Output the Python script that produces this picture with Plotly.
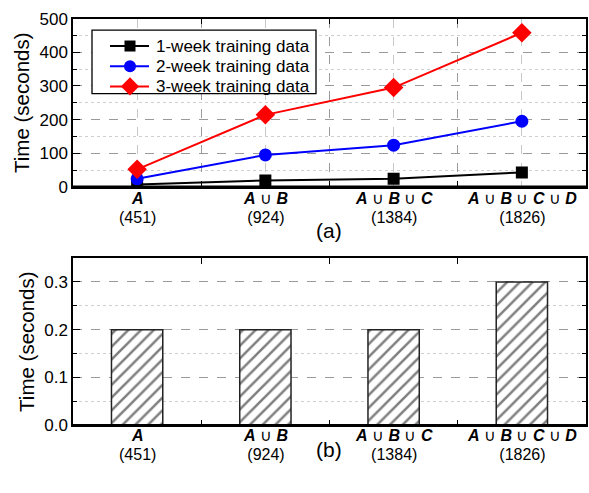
import plotly.graph_objects as go

# Category labels (subset unions) and their sizes
set_labels = [
    "<b><i>A</i></b>",
    "<b><i>A</i></b> \u222a <b><i>B</i></b>",
    "<b><i>A</i></b> \u222a <b><i>B</i></b> \u222a <b><i>C</i></b>",
    "<b><i>A</i></b> \u222a <b><i>B</i></b> \u222a <b><i>C</i></b> \u222a <b><i>D</i></b>",
]
set_sizes = ["(451)", "(924)", "(1384)", "(1826)"]
positions = [0, 1, 2, 3]

# Training time (seconds) by amount of training data
series_names = ["1-week training data", "2-week training data", "3-week training data"]
week1_time = [7, 19, 24, 43]
week2_time = [24, 95, 124, 195]
week3_time = [52, 214, 295, 458]

# Per-sample time (seconds)
bar_time = [0.2, 0.2, 0.2, 0.3]

FONT = "Liberation Sans, Arial, sans-serif"
W, H = 589, 493

fig = go.Figure()

styles = [("#000000", "square", 12), ("#0000ff", "circle", 13), ("#ff0000", "diamond", 15)]
for name, vals, (color, sym, size) in zip(series_names, [week1_time, week2_time, week3_time], styles):
    fig.add_trace(go.Scatter(
        x=positions, y=vals, name=name, mode="lines+markers",
        line=dict(color=color, width=2),
        marker=dict(symbol=sym, size=size, color=color),
        xaxis="x", yaxis="y", showlegend=False,
    ))

fig.add_trace(go.Bar(
    x=positions, y=bar_time, width=0.4, showlegend=False,
    marker=dict(
        color="white",
        line=dict(color="#222222", width=1.5),
        pattern=dict(shape="/", fgcolor="#000000", bgcolor="white",
                     size=9, solidity=0.28),
    ),
    xaxis="x2", yaxis="y2",
))

# Legend box drawn on a pixel-space overlay axis (x3/y3)
leg_left, leg_top, leg_right, leg_bottom = 92, 22, 316, 88
row_y = [38.5, 59.5, 80.5]
sample_x0, sample_mid, sample_x1, text_x = 110, 130, 149, 154

fig.add_shape(type="rect", xref="x3", yref="y3",
              x0=leg_left, x1=leg_right, y0=leg_top, y1=leg_bottom,
              fillcolor="white", line=dict(color="black", width=1.3),
              layer="between")
for name, ry, (color, sym, size) in zip(series_names, row_y, styles):
    fig.add_trace(go.Scatter(
        x=[sample_x0, sample_x1], y=[ry, ry], mode="lines",
        line=dict(color=color, width=2),
        xaxis="x3", yaxis="y3", showlegend=False, hoverinfo="skip",
    ))
    fig.add_trace(go.Scatter(
        x=[sample_mid], y=[ry], mode="markers",
        marker=dict(symbol=sym, size=size - 1, color=color, opacity=1),
        xaxis="x3", yaxis="y3", showlegend=False, hoverinfo="skip",
    ))
    fig.add_annotation(x=text_x, y=ry, xref="x3", yref="y3", text=name,
                       showarrow=False, xanchor="left", yanchor="middle",
                       font=dict(size=17))

x_dom = [73 / W, 586 / W]
top_dom = [1 - 185 / H, 1 - 10 / H]
bot_dom = [1 - 433 / H, 1 - 259 / H]

common_x = dict(
    range=[-0.5, 3.5], domain=x_dom,
    tickvals=[0.5, 1.5, 2.5], showticklabels=False,
    ticks="inside", ticklen=6, tickcolor="black",
    showline=True, linecolor="black", linewidth=1.5, mirror="ticks",
    zeroline=False,
)

common_y = dict(
    ticks="inside", ticklen=7, tickcolor="black",
    showline=True, linecolor="black", linewidth=1.5, mirror="ticks",
    showgrid=True, gridcolor="#9a9a9a", griddash="dash",
    zeroline=False, tickfont=dict(size=17),
    title=dict(text="Time (seconds)", font=dict(size=20.5), standoff=4),
)

fig.update_layout(
    width=W, height=H,
    margin=dict(l=0, r=0, t=0, b=0),
    paper_bgcolor="white", plot_bgcolor="rgba(0,0,0,0)",
    font=dict(family=FONT, size=17, color="black"),
    showlegend=False,
    xaxis=dict(
        **common_x, anchor="y",
        showgrid=True, gridcolor="#9a9a9a", griddash="dash", gridwidth=1,
        minor=dict(tickvals=positions, showgrid=True, gridcolor="#c8c8c8",
                   griddash="dash", ticklen=0),
    ),
    yaxis=dict(
        **common_y, domain=top_dom, anchor="x", range=[0, 500], dtick=100,
        minor=dict(dtick=50, ticks="inside", ticklen=4, tickcolor="black",
                   showgrid=True, gridcolor="#cfcfcf", griddash="dot"),
    ),
    xaxis2=dict(**common_x, anchor="y2", showgrid=False),
    yaxis2=dict(
        **common_y, domain=bot_dom, anchor="x2", range=[0, 0.35], dtick=0.1,
        tickformat=".1f",
        minor=dict(dtick=0.05, ticks="inside", ticklen=4, tickcolor="black",
                   showgrid=True, gridcolor="#cfcfcf", griddash="dot"),
    ),
    xaxis3=dict(domain=[0, 1], range=[0, W], visible=False, fixedrange=True,
                anchor="y3"),
    yaxis3=dict(domain=[0, 1], range=[H, 0], visible=False, fixedrange=True,
                anchor="x3"),
)

# Thicker baseline along the bottom of each panel
for xr, yr in [("x domain", "y domain"), ("x2 domain", "y2 domain")]:
    fig.add_shape(type="line", xref=xr, yref=yr, x0=0, x1=1, y0=0, y1=0,
                  line=dict(color="black", width=2.5), layer="above")

# Two-line category labels under each panel (the annotation's base size
# sets the line pitch, the spans set the glyph size)
for axis, y_mid in [("x", 1 - 207 / H), ("x2", 1 - 453.5 / H)]:
    for pos, lab, size in zip(positions, set_labels, set_sizes):
        txt = (f'<span style="font-size:16px">{lab}</span><br>'
               f'<span style="font-size:16px">{size}</span>')
        fig.add_annotation(x=pos, y=y_mid, xref=axis, yref="paper",
                           text=txt, showarrow=False,
                           font=dict(size=14.3), xanchor="center",
                           yanchor="middle")

# Panel captions
fig.add_annotation(x=329 / W, y=1 - 230 / H, xref="paper", yref="paper",
                   text="(a)", showarrow=False, font=dict(size=21))
fig.add_annotation(x=329 / W, y=1 - 472 / H, xref="paper", yref="paper",
                   text="(b)", showarrow=False, font=dict(size=21))

fig.write_html("out.html")
